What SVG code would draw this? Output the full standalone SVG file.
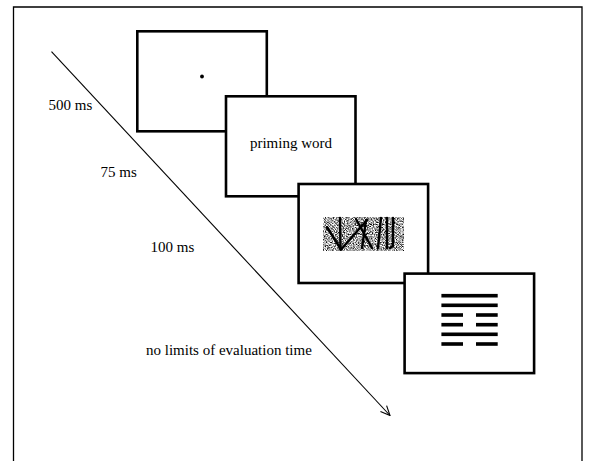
<svg xmlns="http://www.w3.org/2000/svg" width="589" height="461" viewBox="0 0 589 461">
  <defs>
    <style>
      .frame { fill: none; stroke: #000; stroke-width: 1.3; }
      .screen { fill: #fff; stroke: #000; stroke-width: 2.6; }
      .lbl { font-family: "Liberation Serif", "Times New Roman", serif; font-size: 15px; fill: #000; }
      .hex { fill: #000; }
      .mk { stroke: #000; stroke-width: 2.4; fill: none; stroke-linecap: round; }
      .conn { stroke: #000; stroke-width: 1.1; fill: none; }
    </style>
    <filter id="noise" x="0" y="0" width="1" height="1" filterUnits="objectBoundingBox" color-interpolation-filters="sRGB">
      <feTurbulence type="fractalNoise" baseFrequency="0.9" numOctaves="2" seed="7" result="t"/>
      <feColorMatrix in="t" type="matrix" values="0 0 0 0 0  0 0 0 0 0  0 0 0 0 0  2.4 0 0 0 -0.85"/>
    </filter>
    <marker id="openArrow" viewBox="0 0 12 12" refX="11" refY="6" markerWidth="12" markerHeight="12" markerUnits="userSpaceOnUse" orient="auto">
      <path d="M1.5,1.8 L11,6 L1.5,10.2" fill="none" stroke="#000" stroke-width="1.1"/>
    </marker>
  </defs>

  <rect width="589" height="461" fill="#fff"/>
  <path class="frame" d="M13.5,461 V7 H582 V461"/>

  <g id="connectors">
    <line class="conn" x1="51.5" y1="51.7" x2="390" y2="415.5" marker-end="url(#openArrow)"/>
  </g>

  <g id="screen-fixation">
    <rect class="screen" x="137.3" y="31.3" width="129.5" height="100"/>
    <circle cx="202" cy="76.5" r="1.9" fill="#000"/>
  </g>

  <g id="screen-prime">
    <rect class="screen" x="226" y="96.3" width="129.5" height="100"/>
    <text class="lbl" x="291" y="148.3" text-anchor="middle">priming word</text>
  </g>

  <g id="screen-mask">
    <rect class="screen" x="298.6" y="184" width="129.5" height="99"/>
    <rect x="323" y="217" width="81" height="34" fill="#fff"/>
    <rect x="323" y="217" width="81" height="34" fill="#888" filter="url(#noise)"/>
    <g class="mk">
      <path d="M327,227 L341,249.5"/>
      <path d="M340,218 L340.5,249.5"/>
      <path d="M341,249.5 L367,220"/>
      <path d="M356,219 L372,248"/>
      <path d="M366,220 L362,248"/>
      <path d="M381,218 L378,248"/>
      <path d="M387,218 L387,248"/>
      <path d="M393,218 L393,246 L390,248"/>
    </g>
  </g>

  <g id="screen-hexagram">
    <rect class="screen" x="404.6" y="273.6" width="129.5" height="99.5"/>
    <rect class="hex" x="441.4" y="293.9" width="56.3" height="3.6"/>
    <rect class="hex" x="441.4" y="303.5" width="56.3" height="3.6"/>
    <rect class="hex" x="441.4" y="313.2" width="21.6" height="3.6"/>
    <rect class="hex" x="476" y="313.2" width="21.7" height="3.6"/>
    <rect class="hex" x="441.4" y="322.9" width="21.6" height="3.6"/>
    <rect class="hex" x="476" y="322.9" width="21.7" height="3.6"/>
    <rect class="hex" x="441.4" y="332.5" width="56.3" height="3.6"/>
    <rect class="hex" x="441.4" y="342.2" width="21.6" height="3.6"/>
    <rect class="hex" x="476" y="342.2" width="21.7" height="3.6"/>
  </g>

  <g id="labels">
    <text class="lbl" x="48.5" y="109.5">500 ms</text>
    <text class="lbl" x="100.5" y="177">75 ms</text>
    <text class="lbl" x="150.5" y="252">100 ms</text>
    <text class="lbl" x="146" y="354.5">no limits of evaluation time</text>
  </g>
</svg>
